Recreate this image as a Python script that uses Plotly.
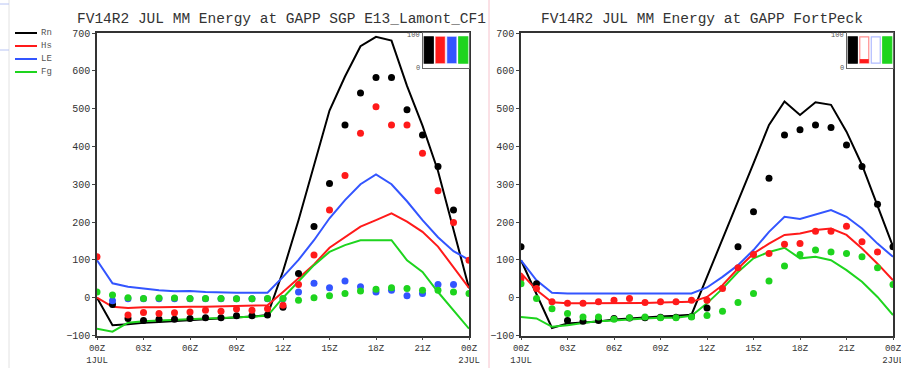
import plotly.graph_objects as go

W, H = 901, 368

hours = list(range(25))
tick_hours = [0, 3, 6, 9, 12, 15, 18, 21, 24]
tick_text = ["00Z<br>1JUL<br>2001", "03Z", "06Z", "09Z", "12Z", "15Z", "18Z", "21Z", "00Z<br>2JUL"]
y_ticks = [-100, 0, 100, 200, 300, 400, 500, 600, 700]

series_names = ["Rn", "Hs", "LE", "Fg"]
colors = ["#000000", "#ff1a1a", "#3355ff", "#1ed41e"]
outline_colors = ["#000000", "#ff9090", "#b0bcff", "#1ed41e"]

# ---- SGP E13 Lamont (left panel) ----
sgp_rn_mod = [0, -73, -70, -66, -64, -62, -60, -58, -56, -53, -50, -46, 70, 205, 350, 495, 585, 665, 690, 680, 560, 455, 335, 180, 25]
sgp_hs_mod = [0, -24, -27, -25, -25, -24, -24, -24, -23, -22, -22, -20, 15, 51, 88, 132, 161, 188, 205, 223, 201, 174, 135, 82, 26]
sgp_le_mod = [99, 38, 29, 24, 20, 17, 18, 15, 13, 13, 13, 13, 55, 100, 152, 210, 258, 300, 326, 300, 255, 205, 160, 123, 100]
sgp_fg_mod = [-82, -90, -66, -62, -60, -58, -56, -55, -54, -52, -50, -48, 0, 42, 86, 121, 139, 152, 152, 152, 99, 68, 15, -33, -82]

sgp_rn_obs = [None, -18, -55, -60, -57, -57, -55, -53, -53, -48, -48, -46, -25, 64, 188, 302, 457, 541, 582, 582, 497, 430, 347, 232, None]
sgp_hs_obs = [108, None, -46, -39, -42, -40, -38, -33, -36, -30, -33, -29, -20, 35, 113, 232, 323, 435, 505, 457, 457, 382, 283, 199, 99]
sgp_le_obs = [None, -8, -3, -3, -3, -3, -3, -3, -3, -3, -3, -3, -3, 15, 38, 26, 44, 29, 15, 20, 5, 11, 35, 35, None]
sgp_fg_obs = [15, 7, 0, -2, -1, -1, -2, -2, -2, -3, -3, -2, -2, -7, 0, 5, 11, 18, 22, 26, 24, 20, 20, 15, 11]
sgp_avail = [100, 100, 100, 100]

# ---- FortPeck (right panel) ----
fp_rn_mod = [99, 10, -80, -68, -66, -63, -58, -55, -52, -50, -48, -45, 55, 154, 256, 355, 457, 519, 483, 517, 510, 439, 351, 245, 135]
fp_hs_mod = [65, 20, -12, -15, -15, -15, -15, -14, -14, -13, -13, -11, 2, 33, 77, 117, 143, 166, 170, 179, 183, 166, 130, 90, 46]
fp_le_mod = [99, 46, 13, 11, 11, 11, 12, 12, 12, 12, 12, 11, 27, 55, 86, 126, 174, 214, 208, 219, 232, 214, 183, 143, 108]
fp_fg_mod = [-51, -55, -77, -73, -67, -62, -60, -57, -55, -53, -53, -48, -15, 24, 68, 104, 121, 132, 104, 108, 99, 73, 42, 2, -46]

fp_rn_obs = [135, 37, None, -60, -62, -60, -55, -54, -53, -52, -52, -50, -27, None, 135, 227, 316, 430, 444, 457, 450, 404, 347, 247, 135]
fp_hs_obs = [51, 24, -11, -15, -15, -11, -7, -2, -13, -11, -11, -7, -7, 24, 79, 114, 117, 141, 143, 176, 176, 189, 148, 121, None]
fp_le_obs = [None] * 25
fp_fg_obs = [37, -2, -29, -42, -51, -51, -57, -53, -51, -53, -53, -51, -47, -36, -13, 11, 44, 84, 114, 126, 121, 117, 108, 79, 35]
fp_avail = [100, 15, 0, 100]

panels = [
    dict(title="FV14R2 JUL MM Energy at GAPP SGP E13_Lamont_CF1",
         mod=[sgp_rn_mod, sgp_hs_mod, sgp_le_mod, sgp_fg_mod],
         obs=[sgp_rn_obs, sgp_hs_obs, sgp_le_obs, sgp_fg_obs],
         avail=sgp_avail, x0=97, x1=469, tx=281),
    dict(title="FV14R2 JUL MM Energy at GAPP FortPeck",
         mod=[fp_rn_mod, fp_hs_mod, fp_le_mod, fp_fg_mod],
         obs=[fp_rn_obs, fp_hs_obs, fp_le_obs, fp_fg_obs],
         avail=fp_avail, x0=521, x1=893, tx=702),
]

FONT = "Liberation Mono"
fig = go.Figure()
y_top, y_bot = 33, 335.5


def px(x):
    return x / W


def py(y):
    return 1 - y / H


annotations = []
shapes = []
layout = {}
for i, p in enumerate(panels):
    xa = "x" if i == 0 else "x2"
    ya = "y" if i == 0 else "y2"
    for k in range(4):
        fig.add_trace(go.Scatter(x=hours, y=p["mod"][k], mode="lines",
                                 line=dict(color=colors[k], width=2),
                                 xaxis=xa, yaxis=ya, showlegend=False,
                                 name=series_names[k] + " model"))
    for k in range(4):
        fig.add_trace(go.Scatter(x=hours, y=p["obs"][k], mode="markers",
                                 marker=dict(color=colors[k], size=7),
                                 xaxis=xa, yaxis=ya, showlegend=False,
                                 name=series_names[k] + " obs"))
    sfx = "" if i == 0 else "2"
    layout["xaxis" + sfx] = dict(domain=[px(p["x0"]), px(p["x1"])], range=[0, 24],
                                 tickvals=tick_hours, ticktext=tick_text,
                                 ticks="outside", ticklen=3, tickcolor="#444",
                                 showline=True, linecolor="#333", linewidth=1.5, mirror=True,
                                 showgrid=False, zeroline=False, anchor=ya, automargin=False,
                                 ticklabeloverflow="allow",
                                 tickfont=dict(family=FONT, size=9, color="#333"))
    layout["yaxis" + sfx] = dict(domain=[py(y_bot), py(y_top)], range=[-100, 700],
                                 tickvals=y_ticks, ticks="outside", ticklen=3, tickcolor="#444",
                                 showline=True, linecolor="#333", linewidth=1.5, mirror=True,
                                 showgrid=False, zeroline=False, anchor=xa, automargin=False,
                                 tickfont=dict(family=FONT, size=10, color="#333"))
    annotations.append(dict(x=px(p["tx"]), y=py(19), xref="paper", yref="paper",
                            text=p["title"], showarrow=False, xanchor="center", yanchor="middle",
                            font=dict(family=FONT, size=14.5, color="#333")))
    # availability inset
    ix = "x" + str(3 + i)
    iy = "y" + str(3 + i)
    ix0 = p["x1"] - 46
    fig.add_trace(go.Bar(x=[0, 1, 2, 3], y=[100] * 4, xaxis=ix, yaxis=iy,
                         marker=dict(color="white", line=dict(color=outline_colors, width=1.2)),
                         showlegend=False, width=0.78, hoverinfo="skip"))
    fig.add_trace(go.Bar(x=[0, 1, 2, 3], y=p["avail"], xaxis=ix, yaxis=iy,
                         marker=dict(color=colors, line=dict(width=0)),
                         showlegend=False, width=0.78))
    layout["xaxis" + str(3 + i)] = dict(domain=[px(ix0), px(p["x1"])], range=[-0.5, 3.5],
                                        showticklabels=False, ticks="", showline=True,
                                        linecolor="#666", linewidth=1, mirror=True, automargin=False,
                                        showgrid=False, zeroline=False, anchor=iy)
    layout["yaxis" + str(3 + i)] = dict(domain=[py(68), py(y_top)], range=[-19, 115],
                                        showticklabels=False, ticks="", showline=True,
                                        linecolor="#666", linewidth=1, mirror=True, automargin=False,
                                        showgrid=False, zeroline=False, anchor=ix)
    annotations.append(dict(x=px(ix0 - 1), y=py(35), xref="paper", yref="paper", text="100",
                            showarrow=False, xanchor="right", yanchor="middle",
                            font=dict(family=FONT, size=7, color="#555")))
    annotations.append(dict(x=px(ix0 - 1), y=py(68), xref="paper", yref="paper", text="0",
                            showarrow=False, xanchor="right", yanchor="middle",
                            font=dict(family=FONT, size=7, color="#555")))

# legend in left margin
leg_y = [33, 46, 59, 72]
for k in range(4):
    shapes.append(dict(type="line", xref="paper", yref="paper", x0=px(15), x1=px(37),
                       y0=py(leg_y[k]), y1=py(leg_y[k]), line=dict(color=colors[k], width=2)))
    annotations.append(dict(x=px(39), y=py(leg_y[k]), xref="paper", yref="paper",
                            text=series_names[k], showarrow=False, xanchor="left", yanchor="middle",
                            font=dict(family=FONT, size=9, color="#555")))

# page artifacts: separator between panels, faint left-edge rule marks
shapes.append(dict(type="line", xref="paper", yref="paper", x0=px(489), x1=px(489), y0=0, y1=1,
                   line=dict(color="#f6c2cc", width=1)))
shapes.append(dict(type="line", xref="paper", yref="paper", x0=px(9), x1=px(9), y0=0, y1=1,
                   line=dict(color="#e2e2e2", width=1)))
for yy in [4, 50]:
    shapes.append(dict(type="line", xref="paper", yref="paper", x0=0, x1=px(9),
                       y0=py(yy), y1=py(yy), line=dict(color="#b8c4f4", width=1)))

fig.update_layout(width=W, height=H, margin=dict(l=0, r=0, t=0, b=0, autoexpand=False),
                  paper_bgcolor="white", plot_bgcolor="white", barmode="overlay",
                  annotations=annotations, shapes=shapes, **layout)
fig.write_html("out.html", config={"displayModeBar": False},
               post_script="document.body.style.margin='0px';document.body.style.overflow='hidden';")
